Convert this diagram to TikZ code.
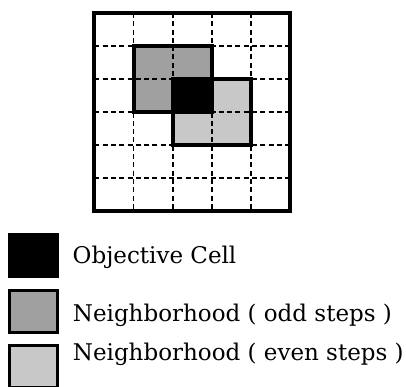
\documentclass[tikz,border=0pt]{standalone}
\usepackage{fontspec}
\setmainfont{DejaVu Serif}
\definecolor{oddgray}{RGB}{160,160,160}
\definecolor{evengray}{RGB}{200,200,200}
\begin{document}
\begin{tikzpicture}[x=1pt,y=-1pt,
  gridline/.style={line width=1.7pt,dash pattern=on 5pt off 3.3pt},
  outerframe/.style={line width=4pt},
  nbframe/.style={line width=4pt},
  legbox/.style={draw=black,line width=3pt,minimum width=48pt,minimum height=42pt,inner sep=0pt,outer sep=0pt},
  legtext/.style={anchor=base west,inner sep=0pt,font=\fontsize{23}{28}\selectfont}]
\useasboundingbox (0,0) rectangle (406,387);
\clip (0,0) rectangle (406,387);
\begin{scope}[shift={(94.3,13)},x=39.2pt,y=-33.05pt]
  \fill[oddgray] (1,1) rectangle (3,3);
  \fill[evengray] (2,2) rectangle (4,4);
  \foreach \i in {1,...,4} \draw[gridline] (\i,0) -- (\i,6);
  \foreach \j in {1,...,5} \draw[gridline] (0,\j) -- (5,\j);
  \draw[outerframe] (0,0) rectangle (5,6);
  \draw[nbframe] (1,1) rectangle (3,3);
  \draw[nbframe] (2,2) rectangle (4,4);
  \filldraw[nbframe,fill=black] (2,2) rectangle (3,3);
\end{scope}
\node[fill=black,minimum width=51pt,minimum height=45pt,inner sep=0pt] (objbox) at (33.5,255.5) {};
\node[legbox,fill=oddgray] (oddbox) at (33.8,311.5) {};
\node[legbox,fill=evengray] (evenbox) at (33.8,366.8) {};
\node[legtext] (objtext) at (72.5,263.3) {Objective Cell};
\node[legtext] (oddtext) at (72.7,321.7) {Neighborhood ( odd steps )};
\node[legtext] (eventext) at (72.7,360) {Neighborhood ( even steps )};
\end{tikzpicture}
\end{document}
